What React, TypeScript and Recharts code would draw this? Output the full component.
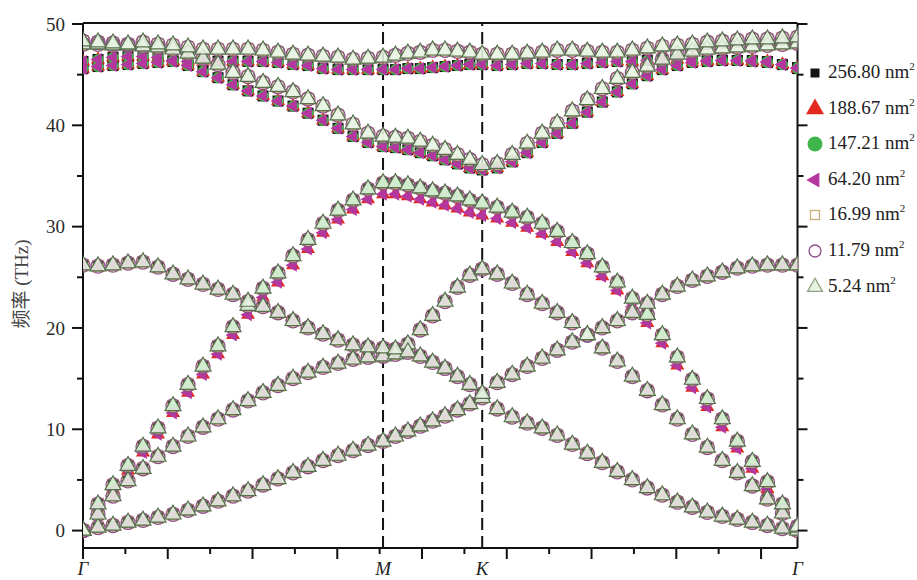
import React from "react";
import { ScatterChart, Scatter, XAxis, YAxis, ReferenceLine } from "recharts";

// sampling along Γ–M–K–Γ (axis units, one major tick = 1)
const kPath = [
  0, 0.177, 0.354, 0.531, 0.708, 0.885, 1.062, 1.239, 1.416, 1.593, 1.77, 1.947, 2.124, 2.301, 2.478, 2.655, 2.832, 3.009, 3.186, 3.363, 3.54,
  3.686, 3.833, 3.979, 4.125, 4.271, 4.418, 4.564, 4.71,
  4.887, 5.064, 5.241, 5.418, 5.595, 5.773, 5.95, 6.127, 6.304, 6.481, 6.658, 6.835, 7.012, 7.189, 7.366, 7.543, 7.72, 7.897, 8.075, 8.252, 8.43,
];

// branches, THz
const za = [
  0.0, 0.3, 0.5, 0.8, 1.0, 1.3, 1.6, 2.0, 2.4, 2.9, 3.4, 3.9, 4.5, 5.1, 5.7, 6.3, 6.9, 7.4, 7.9, 8.4, 8.8,
  9.3, 9.8, 10.3, 10.8, 11.3, 11.9, 12.5, 13.1,
  12.0, 11.2, 10.6, 10.1, 9.4, 8.5, 7.6, 6.7, 5.8, 5.0, 4.2, 3.5, 2.8, 2.3, 1.8, 1.4, 1.1, 0.8, 0.5, 0.2, 0.0,
];
const ta = [
  0.0, 1.6, 3.4, 4.9, 6.1, 7.3, 8.3, 9.3, 10.2, 11.0, 11.9, 12.8, 13.6, 14.3, 15.0, 15.6, 16.1, 16.5, 16.9, 17.1, 17.2,
  17.4, 18.4, 19.8, 21.2, 22.6, 24.0, 25.2, 25.8,
  25.3, 24.4, 23.3, 22.4, 21.5, 20.5, 19.3, 18.0, 16.7, 15.2, 13.8, 12.4, 11.0, 9.5, 8.2, 6.9, 5.7, 4.4, 3.1, 1.7, 0.3,
];
const la = [
  0.0, 2.6, 4.5, 6.4, 8.3, 10.1, 12.3, 14.4, 16.2, 18.2, 20.1, 22.2, 23.9, 25.4, 27.1, 28.7, 30.3, 31.6, 32.6, 33.7, 34.3,
  34.3, 34.1, 33.8, 33.5, 33.3, 33.0, 32.6, 32.3,
  31.9, 31.4, 30.9, 30.3, 29.5, 28.4, 27.3, 26.0, 24.5, 22.9, 21.3, 19.3, 17.1, 14.9, 13.0, 11.0, 8.8, 6.8, 4.8, 2.6, 0.4,
];
const laSoft = [
  0.0, 2.3, 4.0, 5.9, 7.7, 9.5, 11.6, 13.6, 15.4, 17.4, 19.3, 21.3, 23.0, 24.5, 26.2, 27.8, 29.4, 30.7, 31.7, 32.7, 33.2,
  33.2, 33.0, 32.7, 32.4, 32.1, 31.8, 31.4, 31.1,
  30.8, 30.4, 29.9, 29.3, 28.5, 27.5, 26.4, 25.1, 23.7, 22.1, 20.5, 18.5, 16.3, 14.1, 12.2, 10.2, 8.1, 6.1, 4.1, 2.1, 0.3,
];
const zo = [
  26.2, 26.1, 26.2, 26.4, 26.5, 26.0, 25.3, 24.8, 24.3, 23.8, 23.3, 22.6, 22.1, 21.5, 20.7, 20.0, 19.4, 18.8, 18.3, 18.1, 18.0,
  17.9, 17.6, 17.2, 16.6, 16.0, 15.2, 14.4, 13.5,
  14.6, 15.4, 16.2, 17.0, 17.8, 18.6, 19.3, 20.0, 20.7, 21.5, 22.4, 23.3, 24.1, 24.7, 25.1, 25.5, 25.9, 26.1, 26.2, 26.2, 26.2,
];
const toOpen = [
  48.0, 48.0, 47.9, 47.9, 47.8, 47.7, 47.5, 47.1, 46.6, 46.0, 45.2, 44.8, 44.2, 43.8, 43.3, 42.6, 41.9, 41.0, 40.1, 39.2, 38.9,
  38.8, 38.7, 38.4, 38.0, 37.6, 37.1, 36.6, 36.1,
  36.2, 37.1, 38.2, 39.2, 40.2, 41.4, 42.5, 43.6, 44.6, 45.2, 45.8, 46.5, 47.0, 47.3, 47.5, 47.6, 47.7, 47.8, 47.9, 48.0, 48.1,
];
const toFilled = [
  46.3, 46.5, 46.7, 46.8, 46.8, 46.7, 46.4, 45.9, 45.3, 44.7, 44.0, 43.4, 42.9, 42.4, 41.9, 41.2, 40.5, 39.7, 38.9, 38.3, 37.9,
  37.8, 37.6, 37.3, 37.0, 36.6, 36.2, 35.8, 35.6,
  35.8, 36.4, 37.3, 38.3, 39.2, 40.2, 41.3, 42.3, 43.3, 44.1, 44.9, 45.5, 45.9, 46.2, 46.3, 46.4, 46.4, 46.3, 46.2, 46.0, 45.7,
];
const loOpen = [
  48.3, 48.2, 48.1, 48.0, 48.2, 48.0, 47.9, 47.7, 47.5, 47.5, 47.5, 47.5, 47.4, 47.2, 47.0, 46.9, 46.8, 46.7, 46.5, 46.6, 46.7,
  46.9, 47.1, 47.2, 47.4, 47.4, 47.3, 47.2, 47.0,
  47.0, 47.0, 47.1, 47.2, 47.4, 47.4, 47.3, 47.2, 47.2, 47.4, 47.6, 47.8, 47.9, 48.0, 48.2, 48.3, 48.4, 48.5, 48.5, 48.6, 48.7,
];
const loFilled = [
  45.6, 45.8, 45.9, 46.0, 46.1, 46.2, 46.3, 46.3, 46.3, 46.3, 46.3, 46.3, 46.3, 46.2, 46.0, 45.9, 45.6, 45.5, 45.5, 45.5, 45.5,
  45.5, 45.6, 45.6, 45.7, 45.8, 45.9, 46.0, 46.0,
  45.9, 46.0, 46.1, 46.1, 46.0, 46.0, 46.1, 46.2, 46.3, 46.3, 46.4, 46.5, 46.5, 46.5, 46.4, 46.4, 46.4, 46.4, 46.3, 46.0, 45.6,
];

const seriesNames = ["256.80", "188.67", "147.21", "64.20", "16.99", "11.79", "5.24"];
const seriesBranches = [
  [za, ta, la, zo, toFilled, loFilled],
  [za, ta, laSoft, zo, toFilled, loFilled],
  [za, ta, la, zo, toFilled, loFilled],
  [za, ta, laSoft, zo, toFilled, loFilled],
  [za, ta, la, zo, toOpen, loOpen],
  [za, ta, la, zo, toOpen, loOpen],
  [za, ta, la, zo, toOpen, loOpen],
];

const symPos = [0, 3.54, 4.71, 8.43];
const symLabels = ["Γ", "M", "K", "Γ"];
const xTicks = [0, 0.5, 1, 1.5, 2, 2.5, 3, 3.5, 4, 4.5, 5, 5.5, 6, 6.5, 7, 7.5, 8];
const yTicks = [0, 5, 10, 15, 20, 25, 30, 35, 40, 45, 50];

const SERIF = '"Liberation Serif", "Times New Roman", serif';
const AXIS = "#111";

type Mk = { kind: string; size: number; fill: string; stroke: string; strokeWidth?: number; fillOpacity?: number };

const plotMarks: Mk[] = [
  { kind: "square", size: 11, fill: "#141414", stroke: "none" },
  { kind: "triangle", size: 14, fill: "#e3281f", stroke: "none" },
  { kind: "circle", size: 11, fill: "#3fb54b", stroke: "none" },
  { kind: "left", size: 13, fill: "#b4379f", stroke: "none" },
  { kind: "square", size: 11, fill: "none", stroke: "#c9b07a", strokeWidth: 1.3 },
  { kind: "circle", size: 14, fill: "none", stroke: "#8d4f8a", strokeWidth: 1.3 },
  { kind: "triangle", size: 16, fill: "#e6f3e1", fillOpacity: 0.88, stroke: "#56704d", strokeWidth: 1.2 },
];
const legendMarks: Mk[] = plotMarks.map((m, i) =>
  i === 6 ? { ...m, stroke: "#8aa07f", fillOpacity: 1 } : m
);
const legendSizes = [9, 18, 15, 15, 9, 12, 15];

function marker(m: Mk, cx: number, cy: number, size = m.size) {
  const common = {
    fill: m.fill,
    fillOpacity: m.fillOpacity ?? 1,
    stroke: m.stroke,
    strokeWidth: m.strokeWidth ?? 0,
  };
  if (m.kind === "square") {
    return <rect x={cx - size / 2} y={cy - size / 2} width={size} height={size} {...common} />;
  }
  if (m.kind === "circle") {
    return <circle cx={cx} cy={cy} r={size / 2} {...common} />;
  }
  if (m.kind === "triangle") {
    const h = size * 0.87;
    return (
      <polygon
        points={`${cx},${cy - (2 * h) / 3} ${cx - size / 2},${cy + h / 3} ${cx + size / 2},${cy + h / 3}`}
        {...common}
      />
    );
  }
  const w = size * 0.87;
  return (
    <polygon
      points={`${cx - (2 * w) / 3},${cy} ${cx + w / 3},${cy - size / 2} ${cx + w / 3},${cy + size / 2}`}
      {...common}
    />
  );
}

const bottomTicks = [...new Set([...xTicks, ...symPos])].sort((a, b) => a - b);

function BottomTick(p: any) {
  const v = p.payload.value;
  const li = symPos.indexOf(v);
  return (
    <g>
      {xTicks.includes(v) && (
        <line x1={p.x} y1={p.y} x2={p.x} y2={p.y + (Number.isInteger(v) ? 11 : 6)} stroke={AXIS} strokeWidth={2} />
      )}
      {li >= 0 && (
        <text x={p.x} y={p.y + 27} textAnchor="middle" fontStyle="italic" fontSize={19} fontFamily={SERIF} fill="#222">
          {symLabels[li]}
        </text>
      )}
    </g>
  );
}

function TopTick(p: any) {
  const v = p.payload.value;
  return <line x1={p.x} y1={p.y} x2={p.x} y2={p.y - (Number.isInteger(v) ? 11 : 6)} stroke={AXIS} strokeWidth={2} />;
}

function LeftTick(p: any) {
  const v = p.payload.value;
  const major = v % 10 === 0;
  return (
    <g>
      <line x1={p.x} y1={p.y} x2={p.x - (major ? 11 : 6)} y2={p.y} stroke={AXIS} strokeWidth={2} />
      {major && (
        <text x={p.x - 18} y={p.y} dy="0.35em" textAnchor="end" fontSize={19} fontFamily={SERIF} fill="#2a2a2a">
          {v}
        </text>
      )}
    </g>
  );
}

function RightTick(p: any) {
  const v = p.payload.value;
  return <line x1={p.x} y1={p.y} x2={p.x + (v % 10 === 0 ? 10 : 6)} y2={p.y} stroke={AXIS} strokeWidth={2} />;
}

export default function App() {
  const series = seriesBranches.map((branches) =>
    branches.flatMap((b) => kPath.map((x, i) => ({ x, y: b[i] })))
  );
  const yDomain = [-1.72, 50.1];
  const xDomain = [0, 8.43];

  return (
    <div style={{ position: "absolute", left: 0, top: 0, width: 917, height: 580, background: "#fff", overflow: "hidden" }}>
      <ScatterChart width={917} height={580} margin={{ top: 13, right: 99.5, bottom: 0, left: 0 }}>
        <XAxis
          xAxisId="b"
          type="number"
          dataKey="x"
          domain={xDomain}
          ticks={bottomTicks}
          interval={0}
          allowDataOverflow
          height={32}
          tickSize={0}
          tickMargin={0}
          tickLine={false}
          axisLine={{ stroke: AXIS, strokeWidth: 2 }}
          tick={<BottomTick />}
        />
        <XAxis
          xAxisId="t"
          orientation="top"
          type="number"
          domain={xDomain}
          ticks={xTicks}
          interval={0}
          allowDataOverflow
          height={10}
          tickSize={0}
          tickMargin={0}
          tickLine={false}
          axisLine={{ stroke: AXIS, strokeWidth: 2 }}
          tick={<TopTick />}
        />
        <YAxis
          yAxisId="l"
          type="number"
          dataKey="y"
          domain={yDomain}
          ticks={yTicks}
          interval={0}
          allowDataOverflow
          width={83}
          tickSize={0}
          tickMargin={0}
          tickLine={false}
          axisLine={{ stroke: AXIS, strokeWidth: 2 }}
          tick={<LeftTick />}
        />
        <YAxis
          yAxisId="r"
          orientation="right"
          type="number"
          domain={yDomain}
          ticks={yTicks}
          interval={0}
          allowDataOverflow
          width={20}
          tickSize={0}
          tickMargin={0}
          tickLine={false}
          axisLine={{ stroke: AXIS, strokeWidth: 2 }}
          tick={<RightTick />}
        />
        <ReferenceLine x={symPos[1]} xAxisId="b" yAxisId="l" stroke={AXIS} strokeWidth={2} strokeDasharray="12 6" />
        <ReferenceLine x={symPos[2]} xAxisId="b" yAxisId="l" stroke={AXIS} strokeWidth={2} strokeDasharray="12 6" />
        {series.map((data, si) => (
          <Scatter
            key={seriesNames[si]}
            name={seriesNames[si]}
            data={data}
            xAxisId="b"
            yAxisId="l"
            isAnimationActive={false}
            shape={(p: any) => marker(plotMarks[si], p.cx, p.cy)}
          />
        ))}
      </ScatterChart>

      {/* y title */}
      <div
        style={{
          position: "absolute",
          left: 19,
          top: 284,
          transform: "translate(-50%, -50%) rotate(-90deg)",
          whiteSpace: "nowrap",
          fontFamily: '"Liberation Serif", "Noto Sans CJK SC", serif',
          fontSize: 19,
          color: "#444",
        }}
      >
        频率 (THz)
      </div>

      {/* legend */}
      {seriesNames.map((name, i) => (
        <div
          key={name}
          style={{
            position: "absolute",
            left: 804,
            top: 73 + i * 35.6 - 12,
            height: 24,
            display: "flex",
            alignItems: "center",
            whiteSpace: "nowrap",
          }}
        >
          <svg width={22} height={22}>
            {marker(legendMarks[i], 11, 11, legendSizes[i])}
          </svg>
          <span style={{ marginLeft: 2, fontFamily: SERIF, fontSize: 19, color: "#222", lineHeight: "24px" }}>
            {name} nm
            <span style={{ fontSize: 11, position: "relative", top: -8 }}>2</span>
          </span>
        </div>
      ))}
    </div>
  );
}
